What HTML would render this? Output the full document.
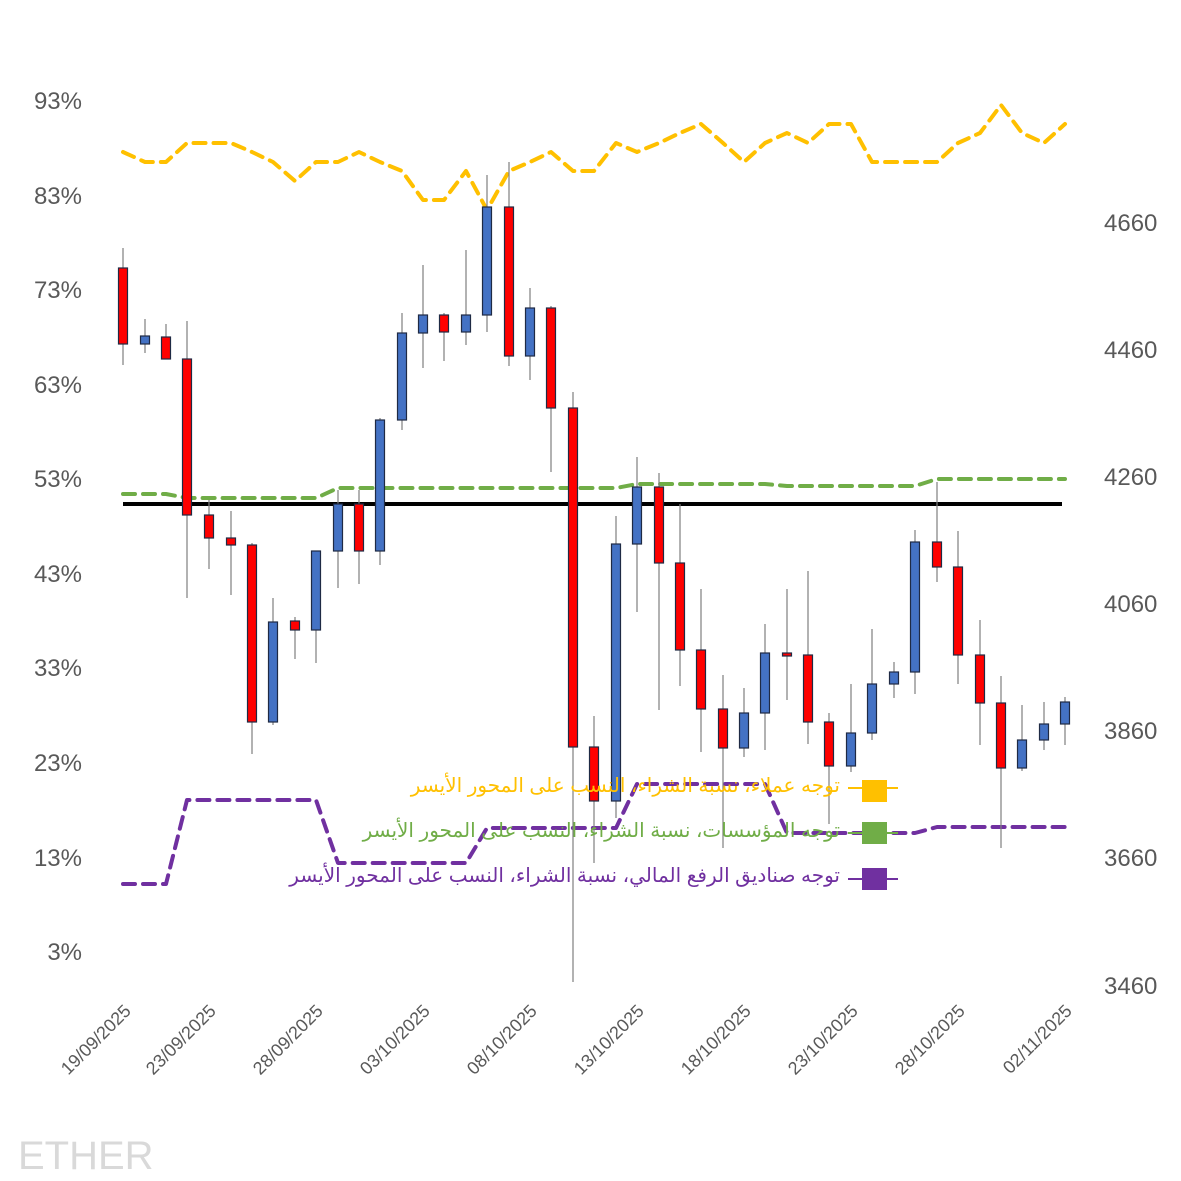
<!DOCTYPE html>
<html><head><meta charset="utf-8"><style>body{margin:0;background:#fff}svg{display:block}</style></head><body>
<svg width="1181" height="1181" xmlns="http://www.w3.org/2000/svg" font-family="Liberation Sans, sans-serif">
<g fill="#595959" font-size="24" text-anchor="end">
<text x="82" y="109">93%</text><text x="82" y="204">83%</text><text x="82" y="298">73%</text><text x="82" y="393">63%</text><text x="82" y="487">53%</text><text x="82" y="582">43%</text><text x="82" y="676">33%</text><text x="82" y="771">23%</text><text x="82" y="866">13%</text><text x="82" y="960">3%</text>
</g>
<g fill="#595959" font-size="24">
<text x="1104" y="231">4660</text><text x="1104" y="358">4460</text><text x="1104" y="485">4260</text><text x="1104" y="612">4060</text><text x="1104" y="739">3860</text><text x="1104" y="866">3660</text><text x="1104" y="994">3460</text>
</g>
<g fill="#595959" font-size="18" text-anchor="end">
<text transform="translate(132,1012) rotate(-45)">19/09/2025</text>
<text transform="translate(217,1012) rotate(-45)">23/09/2025</text>
<text transform="translate(324,1012) rotate(-45)">28/09/2025</text>
<text transform="translate(431,1012) rotate(-45)">03/10/2025</text>
<text transform="translate(538,1012) rotate(-45)">08/10/2025</text>
<text transform="translate(645,1012) rotate(-45)">13/10/2025</text>
<text transform="translate(752,1012) rotate(-45)">18/10/2025</text>
<text transform="translate(859,1012) rotate(-45)">23/10/2025</text>
<text transform="translate(966,1012) rotate(-45)">28/10/2025</text>
<text transform="translate(1073,1012) rotate(-45)">02/11/2025</text>
</g>
<text x="18" y="1169" font-size="40" fill="#d9d9d9">ETHER</text>
<g stroke-width="4" fill="none" stroke-dasharray="12,8" stroke-linecap="round" stroke-linejoin="round">
<polyline stroke="#ffc000" points="123,152 145,162 166,162 187,143 209,143 231,143 252,152 273,162 295,181 316,162 338,162 359,152 380,162 402,171 423,200 444,200 466,171 487,210 509,171 530,162 551,152 573,171 594,171 616,143 637,152 659,143 680,133 701,124 723,143 744,162 765,143 787,133 808,143 829,124 851,124 872,162 894,162 915,162 937,162 958,143 980,133 1001,105 1022,133 1044,143 1065,124"/>
<polyline stroke="#70ad47" points="123,494 166,494 187,498 316,498 338,488 616,488 637,484 765,484 787,486 915,486 937,479 1065,479"/>
<polyline stroke="#7030a0" points="123,884 166,884 187,800 316,800 338,863 466,863 487,828 616,828 637,784 765,784 787,833 915,833 937,827 1065,827"/>
</g>
<line x1="123" y1="504" x2="1062" y2="504" stroke="#000" stroke-width="4"/>
<g stroke="#7f7f7f" stroke-width="1.2">
<line x1="123" y1="248" x2="123" y2="365"/><line x1="145" y1="319" x2="145" y2="353"/><line x1="166" y1="324" x2="166" y2="359"/><line x1="187" y1="321" x2="187" y2="598"/><line x1="209" y1="500" x2="209" y2="569"/><line x1="231" y1="511" x2="231" y2="595"/><line x1="252" y1="543" x2="252" y2="754"/><line x1="273" y1="598" x2="273" y2="725"/><line x1="295" y1="617" x2="295" y2="659"/><line x1="316" y1="551" x2="316" y2="663"/><line x1="338" y1="490" x2="338" y2="588"/><line x1="359" y1="490" x2="359" y2="584"/><line x1="380" y1="418" x2="380" y2="565"/><line x1="402" y1="313" x2="402" y2="430"/><line x1="423" y1="265" x2="423" y2="368"/><line x1="444" y1="313" x2="444" y2="361"/><line x1="466" y1="250" x2="466" y2="345"/><line x1="487" y1="175" x2="487" y2="332"/><line x1="509" y1="162" x2="509" y2="366"/><line x1="530" y1="288" x2="530" y2="380"/><line x1="551" y1="306" x2="551" y2="472"/><line x1="573" y1="392" x2="573" y2="982"/><line x1="594" y1="716" x2="594" y2="863"/><line x1="616" y1="516" x2="616" y2="818"/><line x1="637" y1="457" x2="637" y2="612"/><line x1="659" y1="473" x2="659" y2="710"/><line x1="680" y1="504" x2="680" y2="686"/><line x1="701" y1="589" x2="701" y2="752"/><line x1="723" y1="675" x2="723" y2="848"/><line x1="744" y1="688" x2="744" y2="757"/><line x1="765" y1="624" x2="765" y2="750"/><line x1="787" y1="589" x2="787" y2="700"/><line x1="808" y1="571" x2="808" y2="744"/><line x1="829" y1="713" x2="829" y2="824"/><line x1="851" y1="684" x2="851" y2="772"/><line x1="872" y1="629" x2="872" y2="740"/><line x1="894" y1="662" x2="894" y2="698"/><line x1="915" y1="530" x2="915" y2="694"/><line x1="937" y1="482" x2="937" y2="582"/><line x1="958" y1="531" x2="958" y2="684"/><line x1="980" y1="620" x2="980" y2="745"/><line x1="1001" y1="676" x2="1001" y2="848"/><line x1="1022" y1="705" x2="1022" y2="771"/><line x1="1044" y1="702" x2="1044" y2="750"/><line x1="1065" y1="697" x2="1065" y2="745"/>
</g>
<g stroke="#1f2a44" stroke-width="1.2">
<rect x="118.5" y="268" width="9" height="76" fill="#ff0000"/>
<rect x="140.5" y="336" width="9" height="8" fill="#4472c4"/>
<rect x="161.5" y="337" width="9" height="22" fill="#ff0000"/>
<rect x="182.5" y="359" width="9" height="156" fill="#ff0000"/>
<rect x="204.5" y="515" width="9" height="23" fill="#ff0000"/>
<rect x="226.5" y="538" width="9" height="7" fill="#ff0000"/>
<rect x="247.5" y="545" width="9" height="177" fill="#ff0000"/>
<rect x="268.5" y="622" width="9" height="100" fill="#4472c4"/>
<rect x="290.5" y="621" width="9" height="9" fill="#ff0000"/>
<rect x="311.5" y="551" width="9" height="79" fill="#4472c4"/>
<rect x="333.5" y="504" width="9" height="47" fill="#4472c4"/>
<rect x="354.5" y="504" width="9" height="47" fill="#ff0000"/>
<rect x="375.5" y="420" width="9" height="131" fill="#4472c4"/>
<rect x="397.5" y="333" width="9" height="87" fill="#4472c4"/>
<rect x="418.5" y="315" width="9" height="18" fill="#4472c4"/>
<rect x="439.5" y="315" width="9" height="17" fill="#ff0000"/>
<rect x="461.5" y="315" width="9" height="17" fill="#4472c4"/>
<rect x="482.5" y="207" width="9" height="108" fill="#4472c4"/>
<rect x="504.5" y="207" width="9" height="149" fill="#ff0000"/>
<rect x="525.5" y="308" width="9" height="48" fill="#4472c4"/>
<rect x="546.5" y="308" width="9" height="100" fill="#ff0000"/>
<rect x="568.5" y="408" width="9" height="339" fill="#ff0000"/>
<rect x="589.5" y="747" width="9" height="54" fill="#ff0000"/>
<rect x="611.5" y="544" width="9" height="257" fill="#4472c4"/>
<rect x="632.5" y="487" width="9" height="57" fill="#4472c4"/>
<rect x="654.5" y="487" width="9" height="76" fill="#ff0000"/>
<rect x="675.5" y="563" width="9" height="87" fill="#ff0000"/>
<rect x="696.5" y="650" width="9" height="59" fill="#ff0000"/>
<rect x="718.5" y="709" width="9" height="39" fill="#ff0000"/>
<rect x="739.5" y="713" width="9" height="35" fill="#4472c4"/>
<rect x="760.5" y="653" width="9" height="60" fill="#4472c4"/>
<rect x="782.5" y="653" width="9" height="3" fill="#ff0000"/>
<rect x="803.5" y="655" width="9" height="67" fill="#ff0000"/>
<rect x="824.5" y="722" width="9" height="44" fill="#ff0000"/>
<rect x="846.5" y="733" width="9" height="33" fill="#4472c4"/>
<rect x="867.5" y="684" width="9" height="49" fill="#4472c4"/>
<rect x="889.5" y="672" width="9" height="12" fill="#4472c4"/>
<rect x="910.5" y="542" width="9" height="130" fill="#4472c4"/>
<rect x="932.5" y="542" width="9" height="25" fill="#ff0000"/>
<rect x="953.5" y="567" width="9" height="88" fill="#ff0000"/>
<rect x="975.5" y="655" width="9" height="48" fill="#ff0000"/>
<rect x="996.5" y="703" width="9" height="65" fill="#ff0000"/>
<rect x="1017.5" y="740" width="9" height="28" fill="#4472c4"/>
<rect x="1039.5" y="724" width="9" height="16" fill="#4472c4"/>
<rect x="1060.5" y="702" width="9" height="22" fill="#4472c4"/>
</g>
<g font-size="20" text-anchor="end" font-family="Liberation Sans, DejaVu Sans, sans-serif">
<line x1="848" y1="788" x2="898" y2="788" stroke="#ffc000" stroke-width="2"/><rect x="862" y="780" width="25" height="22" fill="#ffc000"/>
<text x="840" y="792" fill="#ffc000">توجه عملاء، نسبة الشراء، النسب على المحور الأيسر</text>
<line x1="848" y1="833" x2="898" y2="833" stroke="#70ad47" stroke-width="2"/><rect x="862" y="822" width="25" height="22" fill="#70ad47"/>
<text x="840" y="837" fill="#70ad47">توجه المؤسسات، نسبة الشراء، النسب على المحور الأيسر</text>
<line x1="848" y1="879" x2="898" y2="879" stroke="#7030a0" stroke-width="2"/><rect x="862" y="868" width="25" height="22" fill="#7030a0"/>
<text x="840" y="882" fill="#7030a0">توجه صناديق الرفع المالي، نسبة الشراء، النسب على المحور الأيسر</text>
</g>
</svg>
</body></html>
